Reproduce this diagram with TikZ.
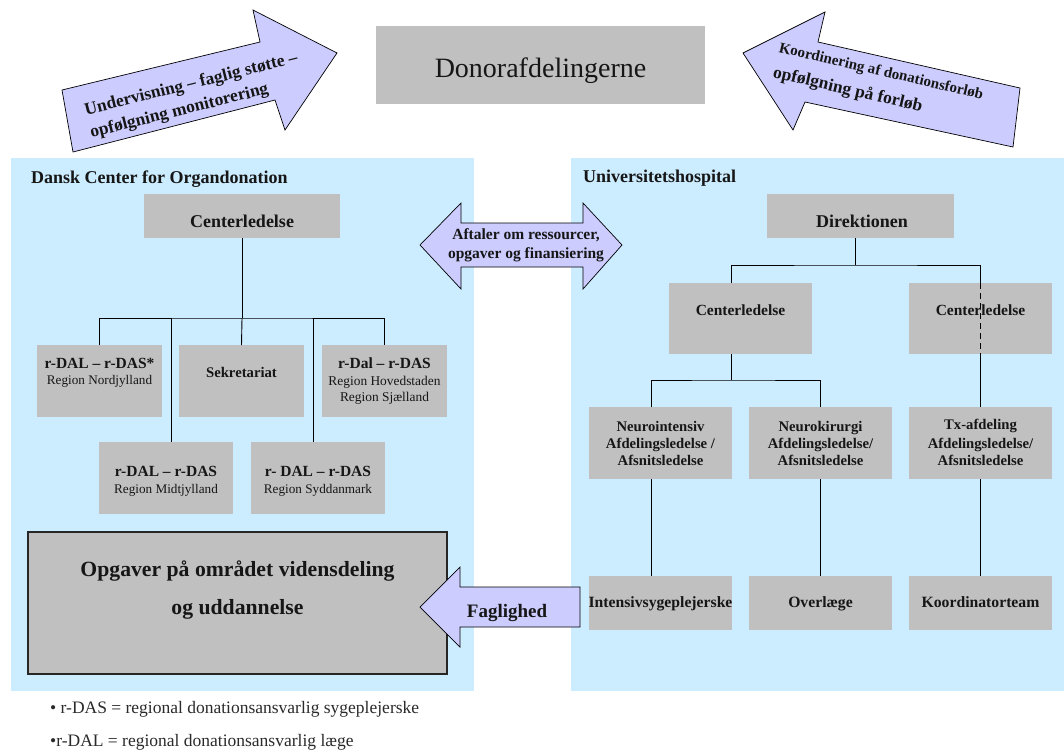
\documentclass[tikz,border=0pt]{standalone}
\usepackage{fontspec}
\setmainfont{Liberation Serif}
\definecolor{panelblue}{HTML}{CCECFF}
\definecolor{boxgray}{HTML}{C0C0C0}
\definecolor{lav}{HTML}{CCCCFF}
\definecolor{ink}{HTML}{161616}
\definecolor{noteink}{HTML}{2A2A2A}
\newcommand{\fB}[1]{\fontsize{#1}{#1}\selectfont\bfseries}
\newcommand{\fR}[1]{\fontsize{#1}{#1}\selectfont}
\newcommand{\tl}[4]{\node[anchor=base,text=ink,inner sep=0pt,font=#3] at (#1,#2) {#4};}
\begin{document}
\begin{tikzpicture}[x=1pt,y=-1pt,
  panel/.style={fill=panelblue,draw=none,inner sep=0pt,outer sep=0pt,anchor=north west},
  gbox/.style={fill=boxgray,draw=none,inner sep=0pt,outer sep=0pt},
  conn/.style={draw=black,line width=0.9pt},
  arrowshape/.style={fill=lav,draw=black,line width=0.7pt,line join=miter},
]
\useasboundingbox (0,0) rectangle (1064,753);
\fill[white] (0,0) rectangle (1064,753);

% panels
\node[panel,minimum width=463pt,minimum height=533pt] (lpanel) at (11,158) {};
\node[panel,minimum width=493pt,minimum height=533pt] (rpanel) at (571,158) {};

% top box
\node[gbox,minimum width=329pt,minimum height=78pt] (donor) at (540.5,65) {};
\tl{540.5}{77}{\fR{28}}{Donorafdelingerne}

% tilted arrows
\draw[arrowshape] (62,90) -- (260,42) -- (253,10) -- (337,53) -- (285,130) -- (275,100) -- (73,152) -- cycle;
\node[rotate=14,align=left,text=ink,inner sep=0pt,font=\fontsize{17.5}{23}\selectfont\bfseries] (undv) at (194,96)
  {Undervisning – faglig støtte –\\opfølgning monitorering};
\draw[arrowshape] (743,53) -- (825,12) -- (818,42) -- (1020,88) -- (1013,147) -- (805,102) -- (793,130) -- cycle;
\node[rotate=-13,align=left,text=ink,inner sep=0pt,font=\fontsize{17.5}{26}\selectfont\bfseries] (koord) at (878,85)
  {{\fontsize{15}{26}\selectfont Koordinering af donationsforløb}\\opfølgning på forløb};

% panel titles
\node[anchor=base west,text=ink,inner sep=0pt,font=\fB{18}] (ltitle) at (31,183) {Dansk Center for Organdonation};
\node[anchor=base west,text=ink,inner sep=0pt,font=\fB{18}] (rtitle) at (583,182) {Universitetshospital};

% ---------- left tree ----------
\node[gbox,minimum width=196pt,minimum height=44pt] (lcl) at (242,216) {};
\node[gbox,minimum width=125pt,minimum height=72pt] (r1a) at (99.5,381) {};
\node[gbox,minimum width=125pt,minimum height=72pt] (r1b) at (241.5,381) {};
\node[gbox,minimum width=125pt,minimum height=72pt] (r1c) at (384.5,381) {};
\node[gbox,minimum width=134pt,minimum height=72pt] (r2a) at (166,478) {};
\node[gbox,minimum width=134pt,minimum height=72pt] (r2b) at (318,478) {};
\coordinate (lbus) at (242,318);
\draw[conn] (lcl.south) -- (lbus);
\draw[conn] (r1a.north) |- (lbus) -| (r1c.north);
\draw[conn] (lbus) -- (r1b.north);
\draw[conn] ([xshift=5pt]r2a.north) -- ([xshift=5pt]r2a.north |- lbus);
\draw[conn] ([xshift=-5pt]r2b.north) -- ([xshift=-5pt]r2b.north |- lbus);

\tl{242}{227}{\fB{18}}{Centerledelse}
\tl{99.5}{368}{\fB{15.5}}{r-DAL – r-DAS*}
\tl{99.5}{384}{\fR{13.2}}{Region Nordjylland}
\tl{241.5}{377}{\fB{14.7}}{Sekretariat}
\tl{384.5}{368}{\fB{15.5}}{r-Dal – r-DAS}
\tl{384.5}{385}{\fR{13.4}}{Region Hovedstaden}
\tl{384.5}{401}{\fR{13.4}}{Region Sjælland}
\tl{166}{476}{\fB{15.5}}{r-DAL – r-DAS}
\tl{166}{493}{\fR{13.2}}{Region Midtjylland}
\tl{318}{476}{\fB{15.5}}{r- DAL – r-DAS}
\tl{318}{493}{\fR{13.2}}{Region Syddanmark}

% big box
\node[gbox,draw=black!85,line width=1.2pt,minimum width=419pt,minimum height=142pt] (tasks) at (237.5,603) {};
\tl{237.5}{576}{\fB{21.7}}{Opgaver på området vidensdeling}
\tl{237.5}{614}{\fB{21.7}}{og uddannelse}

% ---------- right tree ----------
\node[gbox,minimum width=187pt,minimum height=44pt] (dir) at (860.5,216) {};
\node[gbox,minimum width=143pt,minimum height=71pt] (cA) at (740.5,318.5) {};
\node[gbox,minimum width=143pt,minimum height=71pt] (cB) at (980.5,318.5) {};
\node[gbox,minimum width=143pt,minimum height=72pt] (n1) at (660.5,443) {};
\node[gbox,minimum width=143pt,minimum height=72pt] (n2) at (820.5,443) {};
\node[gbox,minimum width=143pt,minimum height=72pt] (n3) at (980.5,443) {};
\node[gbox,minimum width=143pt,minimum height=54pt] (b1) at (660.5,603) {};
\node[gbox,minimum width=143pt,minimum height=54pt] (b2) at (820.5,603) {};
\node[gbox,minimum width=143pt,minimum height=54pt] (b3) at (980.5,603) {};
\coordinate (rbus) at (855.5,265);
\coordinate (rbus2) at (731,380);
\draw[conn] ([xshift=-5pt]dir.south) -- (rbus);
\draw[conn] ([xshift=-9.5pt]cA.north) |- (rbus) -| (cB.north);
\draw[conn,dashed,dash pattern=on 6pt off 4pt] (cB.north) -- (cB.south);
\draw[conn] (cB.south) -- (n3.north);
\draw[conn] ([xshift=-9.5pt]cA.south) -- (rbus2);
\draw[conn] ([xshift=-9.5pt]n1.north) |- (rbus2) -| (n2.north);
\draw[conn] ([xshift=-9.5pt]n1.south) -- ([xshift=-9.5pt]b1.north);
\draw[conn] (n2.south) -- (b2.north);
\draw[conn] (n3.south) -- (b3.north);

\tl{862}{227}{\fB{18}}{Direktionen}
\tl{740.5}{315}{\fB{15.5}}{Centerledelse}
\tl{980.5}{315}{\fB{15.5}}{Centerledelse}
\tl{660.5}{431}{\fB{14.7}}{Neurointensiv}
\tl{660.5}{448}{\fB{14.7}}{Afdelingsledelse /}
\tl{660.5}{465}{\fB{14.7}}{Afsnitsledelse}
\tl{820.5}{431}{\fB{14.7}}{Neurokirurgi}
\tl{820.5}{448}{\fB{14.7}}{Afdelingsledelse/}
\tl{820.5}{465}{\fB{14.7}}{Afsnitsledelse}
\tl{980.5}{429}{\fB{14.7}}{Tx-afdeling}
\tl{980.5}{448}{\fB{14.7}}{Afdelingsledelse/}
\tl{980.5}{465}{\fB{14.7}}{Afsnitsledelse}
\tl{660.5}{607}{\fB{15.7}}{Intensivsygeplejerske}
\tl{820.5}{607}{\fB{15.7}}{Overlæge}
\tl{980.5}{607}{\fB{15.7}}{Koordinatorteam}

% middle double arrow
\draw[arrowshape] (420,245) -- (461,203) -- (461,223) -- (583,223) -- (583,203) -- (622,245)
  -- (583,289) -- (583,267) -- (461,267) -- (461,289) -- cycle;
\node[align=center,text=ink,inner sep=0pt,font=\fB{15.5}] (aft) at (526,245) {Aftaler om ressourcer,\\[3pt]opgaver og finansiering};

% Faglighed arrow
\draw[arrowshape] (420,607) -- (460,567) -- (460,587) -- (580,587) -- (580,627) -- (460,627) -- (460,647) -- cycle;
\tl{507}{617}{\fB{19}}{Faglighed}

% footnotes
\node[anchor=base west,text=noteink,inner sep=0pt,font=\fR{17.5}] (fn1) at (50,713) {• r-DAS = regional donationsansvarlig sygeplejerske};
\node[anchor=base west,text=noteink,inner sep=0pt,font=\fR{17.5}] (fn2) at (50,746) {•r-DAL = regional donationsansvarlig læge};
\end{tikzpicture}
\end{document}
